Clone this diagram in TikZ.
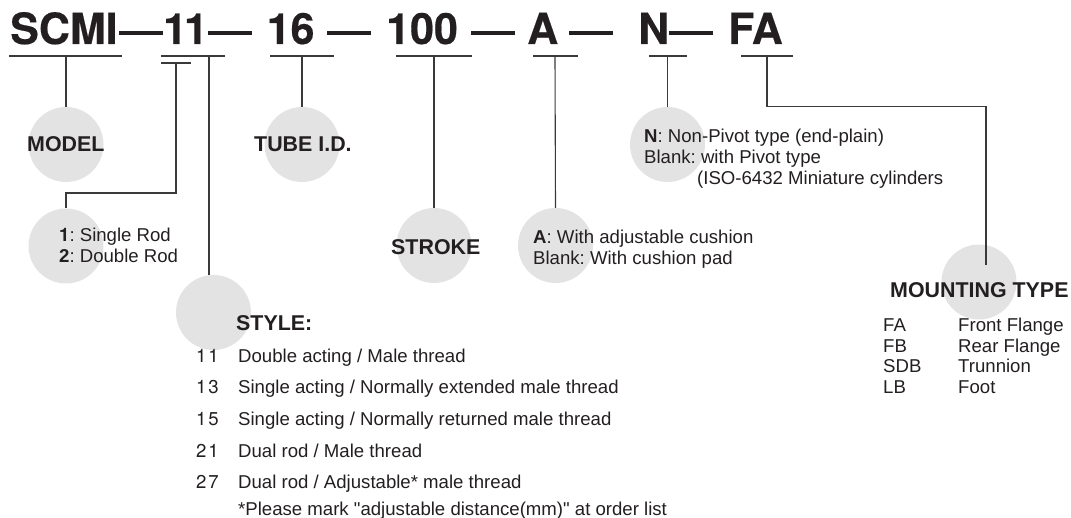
\documentclass[tikz,border=0pt]{standalone}
\usepackage{fontspec}
\setmainfont{Liberation Sans}
\newfontfamily\qf{Liberation Sans}
\newfontfamily\titlef{TeX Gyre Heros}[BoldFeatures={FakeBold=0.4}]
\newfontfamily\numf{TeX Gyre Heros}
\definecolor{ink}{HTML}{231F20}
\definecolor{disc}{HTML}{E3E3E3}
\definecolor{rule}{HTML}{3A3A3A}
\newcommand{\fs}[1]{\fontsize{#1}{#1}\selectfont}
\frenchspacing
\tikzset{x=1pt,y=-1pt,
 title/.style={anchor=base west,inner sep=0,text=ink,font=\titlef\fs{43}\bfseries},
 dashbar/.style={draw=ink,line width=3.8pt},
 lab/.style={anchor=base west,inner sep=0,text=ink,font=\fs{18.6}},
 num/.style={anchor=base west,inner sep=0,text=ink,font=\numf\fs{18.6}\addfontfeatures{LetterSpace=10}},
 head/.style={anchor=base west,inner sep=0,text=ink,font=\fs{21.4}\bfseries},
 disc/.style={circle,fill=disc,draw=none,minimum size=#1,inner sep=0},
 wire/.style={draw=rule,line width=1.1pt},
}
\begin{document}
\begin{tikzpicture}
\useasboundingbox (0,0) rectangle (1071,518);
% discs
\node[disc=75pt] (cModel) at (66,144.5) {};
\node[disc=75pt] (cTube) at (302,144.5) {};
\node[disc=75pt] (cN) at (667.5,144.5) {};
\node[disc=75pt] (cRod) at (66,246) {};
\node[disc=75pt] (cStyle) at (213.5,312.5) {};
\node[disc=75pt] (cStroke) at (434,245.5) {};
\node[disc=75pt] (cA) at (555.5,245.5) {};
\node[disc=75pt] (cMount) at (979,282) {};
% title
\node[title] (tSCMI) at (10,44) {SCMI};
\node[title] (t11) at (163,44) {1\kern-3pt 1};
\node[title] (t16) at (266.5,44) {16};
\node[title] (t100) at (386,44) {100};
\node[title] (tA) at (527,44) {A};
\node[title] (tN) at (638,44) {N};
\node[title] (tFA) at (728,44) {FA};
\foreach \a/\b in {119/163,208/252,327/371,471/515,569/613,669/713}
  \draw[dashbar] (\a,33) -- (\b,33);
% bars
\coordinate (bModelL) at (9,56); \coordinate (bModelR) at (122,56);
\coordinate (b11L) at (161,56); \coordinate (b11R) at (225,56);
\coordinate (b1L) at (161,63); \coordinate (b1R) at (191,63);
\coordinate (bTubeL) at (270,56); \coordinate (bTubeR) at (334,56);
\coordinate (bStrokeL) at (396,56); \coordinate (bStrokeR) at (472,56);
\coordinate (bAL) at (533,56); \coordinate (bAR) at (578,56);
\coordinate (bNL) at (649,56); \coordinate (bNR) at (687,56);
\coordinate (bFAL) at (741,56); \coordinate (bFAR) at (793,56);
\foreach \n in {Model,11,1,Tube,Stroke,A,N,FA}
  \draw[wire] (b\n L) -- (b\n R);
% connectors
\coordinate (jModel) at (66,56);
\coordinate (jStyle) at (209,56);
\coordinate (jTube) at (302,56);
\coordinate (jStroke) at (434,56);
\coordinate (jA) at (555,56);
\coordinate (jN) at (667.5,56);
\coordinate (jFA) at (767,56);
\coordinate (j1) at (176,63);
\draw[wire] (jModel) -- (cModel.north);
\draw[wire] (jTube) -- (cTube.north);
\draw[wire] (jN) -- (cN.north);
\draw[wire] (jStroke) -- (cStroke.north);
\draw[wire] (jA) -- (cA.north);
\draw[wire] (jStyle) -- (209,275);
\draw[wire] (j1) -- (176,193) -- (66,193) -- (cRod.north);
\draw[wire] (jFA) -- (767,106.5) -- (986,106.5) -- (986,265);
% labels
\node[head] (lModel) at (27,152) {MODEL};
\node[head] (lTube) at (254,152) {TUBE I.D.};
\node[head] (lStroke) at (391,255) {STROKE};
\node[head] (lMount) at (890,298) {MOUNTING TYPE};
\node[head] (lStyle) at (236,331) {STYLE:};
\node[lab] (r1) at (59,242) {{\numf\bfseries 1}: Single Rod};
\node[lab] (r2) at (59,263) {\textbf{2}: Double Rod};
\node[lab] (a1) at (533,244) {\textbf{A}: With adjustable cushion};
\node[lab] (a2) at (533,265) {Blank: With cushion pad};
\node[lab] (n1) at (644,143) {\textbf{N}: Non-Pivot type (end-plain)};
\node[lab] (n2) at (644,164) {Blank: with Pivot type};
\node[lab] (n3) at (697,185) {(ISO-6432 Miniature cylinders};
\foreach \y/\c/\d/\name in {332/FA/Front Flange/m1,352.5/FB/Rear Flange/m2,373/SDB/Trunnion/m3,394/LB/Foot/m4}{
  \node[lab] (\name a) at (883,\y) {\c};
  \node[lab] (\name b) at (958,\y) {\d};
}
\foreach \y/\c/\d/\name in {363/11/{Double acting / Male thread}/s1,394/13/{Single acting / Normally extended male thread}/s2,425.5/15/{Single acting / Normally returned male thread}/s3,457/21/{Dual rod / Male thread}/s4,488.5/27/{Dual rod / Adjustable* male thread}/s5}{
  \node[num] (\name a) at (196,\y) {\c};
  \node[lab] (\name b) at (238,\y) {\d};
}
\node[lab] (s6) at (238,515) {\qf *Please mark "adjustable distance(mm)" at order list};
\end{tikzpicture}
\end{document}
